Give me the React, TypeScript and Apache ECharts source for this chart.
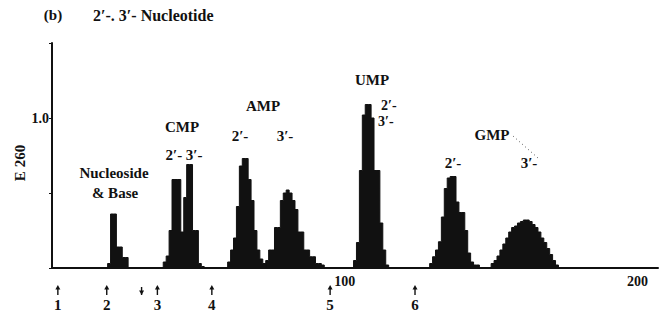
import React, { useEffect, useRef } from "react";
import * as echarts from "echarts";

// Fraction (x) range and absorbance scale
const xMin = 0;
const xMax = 207;
const yMax = 1.5;

// Peaks: first fraction and absorbance per fraction (E 260)
const nucleosideStart = 19;
const nucleosideValues = [0.03, 0.36, 0.36, 0.14, 0.14, 0.07, 0.07];

const cmpStart = 38;
const cmpValues = [0.04, 0.08, 0.25, 0.59, 0.59, 0.59, 0.24, 0.47, 0.69, 0.69, 0.25, 0.25, 0.03, 0.01];

const amp2Start = 60;
const amp2Values = [0.04, 0.12, 0.2, 0.41, 0.68, 0.73, 0.73, 0.59, 0.45, 0.25, 0.12, 0.06, 0.03];

const amp3Start = 73;
const amp3Values = [0.05, 0.12, 0.12, 0.27, 0.27, 0.45, 0.5, 0.52, 0.5, 0.45, 0.39, 0.24, 0.24, 0.12, 0.12, 0.075, 0.075, 0.03, 0.03, 0.02];

const umpStart = 103;
const umpValues = [0.05, 0.17, 0.65, 1.02, 1.09, 1.09, 1.0, 0.65, 0.65, 0.3, 0.12, 0.02];

const gmp2Start = 129;
const gmp2Values = [0.03, 0.075, 0.12, 0.175, 0.34, 0.53, 0.6, 0.61, 0.61, 0.44, 0.37, 0.37, 0.25, 0.1, 0.04, 0.02, 0.02];

const gmp3Start = 150;
const gmp3Values = [0.03, 0.05, 0.08, 0.12, 0.16, 0.2, 0.24, 0.27, 0.28, 0.3, 0.31, 0.32, 0.32, 0.31, 0.29, 0.27, 0.24, 0.2, 0.17, 0.13, 0.09, 0.05, 0.02];

// Eluent change markers below the axis
const markerPositions = [2, 18.7, 30.6, 36, 54.6, 95, 124];
const markerLabels = ["1", "2", "", "3", "4", "5", "6"];
const markerDirections = ["up", "up", "down", "up", "up", "up", "up"];

const xTickLabels: Record<number, string> = { 100: "100", 200: "200" };
const yTickLabels: Record<number, string> = { 1: "1.0" };

const peaks: [number, number[]][] = [
  [nucleosideStart, nucleosideValues],
  [cmpStart, cmpValues],
  [amp2Start, amp2Values],
  [amp3Start, amp3Values],
  [umpStart, umpValues],
  [gmp2Start, gmp2Values],
  [gmp3Start, gmp3Values],
];

function buildSeries(): [number, number][] {
  const pts: [number, number][] = [[xMin, 0]];
  peaks.forEach(([start, vals]) => {
    vals.forEach((v, i) => pts.push([start + i, v]));
    pts.push([start + vals.length, 0]);
  });
  pts.push([xMax, 0]);
  return pts;
}

const SERIF = '"Liberation Serif", "DejaVu Serif", serif';
const font = (size: number, weight = "bold") => `${weight} ${size}px ${SERIF}`;

function txt(text: string, x: number, y: number, size = 14, align = "center", rotation = 0) {
  return {
    type: "text",
    x,
    y,
    rotation,
    style: { text, font: font(size), fill: "#111", align, verticalAlign: "middle" },
  };
}

export default function App() {
  const ref = useRef<HTMLDivElement>(null);
  useEffect(() => {
    if (!ref.current) return;
    const chart = echarts.init(ref.current, null, { renderer: "svg" });
    const option: any = {
      animation: false,
      backgroundColor: "#fff",
      grid: { left: 52, right: 0, top: 43, bottom: 53 },
      xAxis: {
        type: "value",
        min: xMin,
        max: xMax,
        interval: 100,
        axisLine: { show: true, lineStyle: { color: "#111", width: 2 } },
        axisTick: { show: false },
        splitLine: { show: false },
        axisLabel: {
          formatter: (v: number) => xTickLabels[v] || "",
          color: "#111",
          fontFamily: SERIF,
          fontWeight: "bold",
          fontSize: 14,
          margin: 6,
        },
      },
      yAxis: {
        type: "value",
        min: 0,
        max: yMax,
        interval: 0.5,
        axisLine: { show: true, lineStyle: { color: "#111", width: 2 } },
        axisTick: { show: true, length: 3, lineStyle: { color: "#111" } },
        splitLine: { show: false },
        axisLabel: {
          formatter: (v: number) => yTickLabels[v] || "",
          color: "#111",
          fontFamily: SERIF,
          fontWeight: "bold",
          fontSize: 14,
          margin: 3,
        },
      },
      series: [
        {
          type: "line",
          step: "end",
          data: buildSeries(),
          showSymbol: false,
          symbol: "none",
          lineStyle: { color: "#111", width: 1 },
          areaStyle: { color: "#111", opacity: 1 },
        },
      ],
    };
    chart.setOption(option);

    const graphics: any[] = [
      txt("(b)", 53, 15, 15),
      txt("2′-. 3′- Nucleotide", 93, 15, 16, "left"),
      txt("E 260", 20, 163, 15, "center", Math.PI / 2),
      txt("Nucleoside", 114, 173, 15),
      txt("& Base", 115, 193, 15),
      txt("CMP", 182, 127, 15),
      txt("2′- 3′-", 184, 155, 15),
      txt("AMP", 263, 106, 15),
      txt("2′-", 240, 136, 15),
      txt("3′-", 285, 136, 15),
      txt("UMP", 372, 80, 15),
      txt("2′-", 381, 105, 14, "left"),
      txt("3′-", 378, 121, 14, "left"),
      txt("GMP", 492, 135, 15),
      txt("2′-", 453, 163, 15),
      txt("3′-", 529, 163, 15),
      {
        type: "line",
        shape: { x1: 513, y1: 136, x2: 538, y2: 158 },
        style: { stroke: "#555", lineWidth: 1, lineDash: [1, 3] },
      },
    ];

    markerPositions.forEach((pos, i) => {
      const px = chart.convertToPixel({ xAxisIndex: 0 }, pos) as number;
      const up = markerDirections[i] === "up";
      const top = 285;
      const bottom = 295;
      graphics.push({
        type: "line",
        shape: { x1: px, y1: top + 2, x2: px, y2: bottom },
        style: { stroke: "#111", lineWidth: 1.4 },
      });
      graphics.push({
        type: "polygon",
        shape: {
          points: up
            ? [[px - 2.5, top + 4.5], [px + 2.5, top + 4.5], [px, top]]
            : [[px - 2.5, bottom - 4.5], [px + 2.5, bottom - 4.5], [px, bottom]],
        },
        style: { fill: "#111" },
      });
      if (markerLabels[i]) graphics.push(txt(markerLabels[i], px, 305, 15));
    });

    chart.setOption({ graphic: graphics });
    return () => chart.dispose();
  }, []);
  return (
    <div
      ref={ref}
      style={{ position: "fixed", left: 0, top: 0, width: 661, height: 321 }}
    />
  );
}
